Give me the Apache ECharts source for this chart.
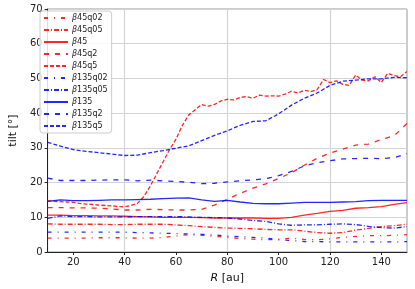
<!DOCTYPE html>
<html>
<head>
<meta charset="utf-8">
<script src="https://cdn.jsdelivr.net/npm/echarts@6/dist/echarts.min.js"></script>
<style>
  html, body { margin: 0; padding: 0; background: #fff; }
  #main { width: 415px; height: 289px; }
</style>
</head>
<body>
<div id="main"></div>
<script>
// radius grid (au) shared by most runs
var radius = [10, 15, 20, 25, 30, 35, 40, 45, 50, 55, 60, 65, 70, 75, 80, 85, 90, 95, 100,
  105, 110, 115, 120, 125, 130, 135, 140, 145, 150];
// finer grid for the noisy beta45q5 run
var radiusFine = [10, 12.5, 15, 17.5, 20, 22.5, 25, 27.5, 30, 32.5, 35, 37.5, 40, 42.5, 45, 47.5,
  50, 52.5, 55, 57.5, 60, 62.5, 65, 67.5, 70, 72.5, 75, 77.5, 80, 82.5, 85, 87.5, 90, 92.5,
  95, 97.5, 100, 102.5, 105, 107.5, 110, 112.5, 115, 117.5, 120, 122.5, 125, 127.5, 130,
  132.5, 135, 137.5, 140, 142.5, 145, 147.5, 150];

var b45q02 = [4.0, 4.0, 4.0, 4.0, 4.1, 4.1, 4.1, 4.0, 4.0, 4.2, 4.6, 5.0, 4.8, 4.5, 4.2, 3.9,
  3.7, 3.5, 3.7, 4.0, 3.6, 3.5, 3.8, 4.2, 4.5, 4.7, 4.7, 4.8, 5.0];
var b45q05 = [8.1, 8.0, 8.0, 8.0, 8.0, 7.9, 7.9, 8.0, 8.0, 8.0, 7.8, 7.6, 7.3, 7.1, 6.9, 6.8,
  6.7, 6.5, 6.4, 6.4, 6.0, 5.6, 5.4, 5.6, 6.3, 6.8, 7.3, 7.6, 8.0];
var b45 = [10.6, 10.6, 10.5, 10.5, 10.4, 10.4, 10.3, 10.2, 10.1, 10.0, 10.0, 10.0, 9.9, 9.8,
  9.8, 9.8, 9.8, 9.7, 9.7, 10.0, 10.6, 11.1, 11.7, 12.0, 12.6, 12.8, 13.1, 13.7, 14.2];
var b45q2 = [12.8, 12.8, 12.7, 12.7, 12.6, 12.4, 12.1, 12.1, 12.3, 12.2, 12.1, 12.1, 12.3,
  13.5, 15.2, 16.9, 18.4, 19.6, 21.2, 22.8, 25.0, 27.0, 28.5, 29.6, 30.8, 31.1, 32.4, 33.5, 37.0];
var b45q5 = [14.8, 14.6, 14.5, 14.4, 14.3, 14.0, 13.8, 13.7, 13.5, 13.4, 13.3, 13.1, 13.0,
  13.4, 14.0, 16.0, 19.0, 22.5, 26.0, 29.5, 32.5, 36.5, 39.5, 41.0, 42.5, 42.0, 42.5, 43.5,
  44.0, 43.8, 44.5, 44.8, 44.3, 45.2, 44.9, 45.0, 44.9, 45.5, 46.3, 45.8, 46.6, 46.2, 46.8,
  49.7, 48.8, 49.3, 48.3, 48.0, 51.0, 49.5, 49.3, 50.5, 48.8, 51.5, 50.8, 50.5, 52.0];
var b135q02 = [5.7, 5.7, 5.7, 5.7, 5.7, 5.7, 5.7, 5.6, 5.5, 5.4, 5.3, 5.2, 5.1, 4.9, 4.6, 4.4,
  4.2, 4.0, 3.5, 3.3, 3.0, 3.0, 2.9, 2.9, 2.9, 2.9, 2.9, 2.9, 3.0];
var b135q05 = [9.7, 10.4, 10.2, 10.2, 10.1, 10.1, 10.1, 10.2, 10.2, 10.2, 10.2, 10.1, 10.0,
  9.9, 9.8, 9.5, 9.1, 8.8, 8.1, 7.7, 7.8, 7.8, 8.0, 8.1, 7.9, 7.4, 7.0, 6.9, 7.3];
var b135 = [14.6, 15.0, 14.8, 14.8, 14.9, 15.0, 15.0, 15.1, 15.2, 15.4, 15.5, 15.6, 15.0, 14.6,
  14.9, 14.4, 14.0, 13.9, 13.9, 14.1, 14.3, 14.3, 14.3, 14.4, 14.5, 14.8, 14.9, 14.9, 14.9];
var b135q2 = [21.3, 20.6, 20.6, 20.6, 20.7, 20.8, 20.8, 20.5, 20.7, 20.5, 20.3, 20.1, 19.7,
  19.8, 20.2, 20.5, 20.8, 21.1, 22.0, 23.2, 24.8, 25.7, 26.3, 26.8, 26.9, 27.0, 26.9, 27.2, 28.3];
var b135q5 = [31.6, 30.5, 29.5, 29.0, 28.6, 28.2, 27.8, 27.9, 28.6, 29.2, 29.9, 30.6, 32.1,
  33.6, 34.9, 36.5, 37.6, 37.8, 39.8, 42.3, 44.3, 45.8, 48.0, 49.2, 49.5, 49.9, 49.9, 50.3, 50.2];

var xTicks = [20, 40, 60, 80, 100, 120, 140];

var RED = 'rgba(255,0,0,0.85)';
var BLUE = 'rgba(0,0,255,0.85)';
var dashes = {
  q02: [4, 6, 1, 6],
  q05: [5, 2, 1, 2],
  solid: 'solid',
  q2: [5, 6],
  q5: [4, 2]
};

function pairs(xs, ys) {
  return xs.map(function (x, i) { return [x, ys[i]]; });
}

function line(name, xs, ys, color, dash) {
  return {
    name: name,
    type: 'line',
    data: pairs(xs, ys),
    showSymbol: false,
    symbol: 'none',
    animation: false,
    lineStyle: { color: color, width: 1.3, type: dash },
    itemStyle: { color: color }
  };
}

var series = [
  line('β45q02', radius, b45q02, RED, dashes.q02),
  line('β45q05', radius, b45q05, RED, dashes.q05),
  line('β45', radius, b45, RED, dashes.solid),
  line('β45q2', radius, b45q2, RED, dashes.q2),
  line('β45q5', radiusFine, b45q5, RED, dashes.q5),
  line('β135q02', radius, b135q02, BLUE, dashes.q02),
  line('β135q05', radius, b135q05, BLUE, dashes.q05),
  line('β135', radius, b135, BLUE, dashes.solid),
  line('β135q2', radius, b135q2, BLUE, dashes.q2),
  line('β135q5', radius, b135q5, BLUE, dashes.q5)
];

var chart = echarts.init(document.getElementById('main'));
chart.setOption({
  animation: false,
  textStyle: { fontFamily: 'DejaVu Sans' },
  grid: {
    left: 39, right: 8, top: 9, bottom: 35,
    show: true, borderColor: '#999', borderWidth: 1
  },
  legend: {
    orient: 'vertical',
    left: 40, top: 11,
    padding: [2, 4, 2, 3],
    itemWidth: 24, itemHeight: 10, itemGap: 2,
    backgroundColor: 'rgba(255,255,255,0.85)',
    borderColor: '#ccc', borderWidth: 1, borderRadius: 3,
    // hide the marker the line legend icon always adds
    itemStyle: { opacity: 0 },
    formatter: function (n) { return '{g|β}' + n.slice(1); },
    textStyle: {
      fontSize: 8, color: '#222', lineHeight: 10, padding: [0, 0, 0, -1],
      rich: { g: { fontStyle: 'italic', fontSize: 8, color: '#222' } }
    },
    data: series.map(function (s) { return s.name; })
  },
  xAxis: {
    type: 'value', min: 10, max: 150, interval: 10,
    name: '{i|R} [au]', nameLocation: 'middle', nameGap: 21,
    nameTextStyle: {
      fontSize: 11, color: '#111',
      rich: { i: { fontStyle: 'italic', fontSize: 11, color: '#111' } }
    },
    axisLine: { show: true, lineStyle: { color: '#222', width: 1 } },
    axisTick: { show: true, length: 3, customValues: xTicks, lineStyle: { color: '#222' } },
    axisLabel: { customValues: xTicks, fontSize: 10, color: '#222', margin: 5 },
    splitLine: { show: true, lineStyle: { color: ['rgba(0,0,0,0)', '#d4d4d4'], width: 1.2 } }
  },
  yAxis: {
    type: 'value', min: 0, max: 70, interval: 10,
    name: 'tilt [°]', nameLocation: 'middle', nameGap: 28,
    nameTextStyle: { fontSize: 11, color: '#111' },
    axisLine: { show: true, lineStyle: { color: '#222', width: 1 } },
    axisTick: { show: true, length: 3, lineStyle: { color: '#222' } },
    axisLabel: { fontSize: 10, color: '#222', margin: 5 },
    splitLine: { show: true, lineStyle: { color: '#d4d4d4', width: 1.2 } }
  },
  series: series
});
</script>
</body>
</html>
